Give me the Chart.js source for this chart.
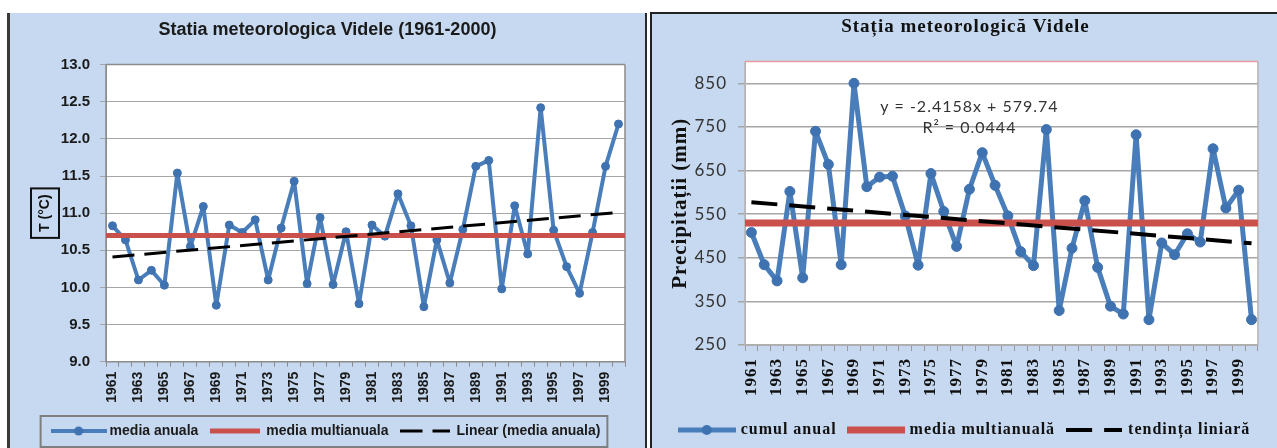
<!DOCTYPE html>
<html>
<head>
<meta charset="utf-8">
<script src="https://cdn.jsdelivr.net/npm/chart.js@4.4.1/dist/chart.umd.min.js"></script>
<style>
  html, body { margin: 0; padding: 0; background: #fff; width: 1277px; height: 448px; overflow: hidden; position: relative; }
  #p1 { position: absolute; left: 7px; top: 13px; width: 635px; height: 435px; background: #c6d9f0;
        border-left: 3px solid #3a3a3a; border-right: 2px solid #2a2a2a; }
  #p2 { position: absolute; left: 650px; top: 12px; width: 627px; height: 434px; background: #c6d9f0;
        border-left: 2px solid #222; border-top: 2px solid #222; }
  canvas { display: block; }
</style>
</head>
<body>
<div id="p1"><canvas id="tempChart" width="635" height="435"></canvas></div>
<div id="p2"><canvas id="precipChart" width="627" height="434"></canvas></div>
<script>
// years 1961-2000
const years = ['1961','1962','1963','1964','1965','1966','1967','1968','1969','1970',
               '1971','1972','1973','1974','1975','1976','1977','1978','1979','1980',
               '1981','1982','1983','1984','1985','1986','1987','1988','1989','1990',
               '1991','1992','1993','1994','1995','1996','1997','1998','1999','2000'];

// left chart: mean annual temperature (°C)
const tempAnnual = [10.83, 10.64, 10.10, 10.23, 10.03, 11.54, 10.55, 11.09, 9.76, 10.84,
                    10.74, 10.91, 10.10, 10.80, 11.43, 10.05, 10.94, 10.04, 10.75, 9.78,
                    10.84, 10.69, 11.26, 10.83, 9.74, 10.64, 10.06, 10.78, 11.63, 11.71,
                    9.98, 11.10, 10.45, 12.42, 10.77, 10.28, 9.92, 10.74, 11.63, 12.20];
const tempMean = 10.70;
const tempTrend = [10.41, 11.01];   // trend line at 1961 and 2000
const tempTicks = [9.0, 9.5, 10.0, 10.5, 11.0, 11.5, 12.0, 12.5, 13.0];

// right chart: annual precipitation (mm)
const precipAnnual = [508, 434, 397, 602, 404, 740, 664, 434, 850, 613,
                      635, 637, 546, 433, 643, 556, 476, 607, 691, 616,
                      546, 464, 432, 744, 329, 472, 581, 428, 339, 321,
                      732, 308, 484, 457, 505, 486, 700, 564, 605, 308];
const precipMean = 530;
const precipTrend = [577.3, 483.1]; // y = -2.4158x + 579.74 at x = 1 and x = 40
const precipTicks = [250, 350, 450, 550, 650, 750, 850];
const precipMax = 900;
const trendEquation = ['y = -2.4158x + 579.74', 'R² = 0.0444'];

const SANS = '"Liberation Sans", Arial, sans-serif';
const SERIF = '"Liberation Serif", "Times New Roman", serif';
const CALI = 'Lato, "Open Sans", sans-serif';
const BLUE = '#4a7ebb';
const BLUE_PT = '#3f72b0';
const RED = '#c9504b';

function sample(w, h, draw) {
  const c = document.createElement('canvas');
  c.width = w; c.height = h;
  draw(c.getContext('2d'), w, h);
  return c;
}
function lineSample(w, h, color, lw, dash, marker) {
  return sample(w, h, (g) => {
    g.strokeStyle = color; g.lineWidth = lw;
    g.setLineDash(dash || []);
    g.beginPath(); g.moveTo(0, h / 2); g.lineTo(w, h / 2); g.stroke();
    if (marker) {
      g.setLineDash([]);
      g.fillStyle = BLUE_PT;
      g.beginPath(); g.arc(w / 2, h / 2, marker, 0, Math.PI * 2); g.fill();
    }
  });
}

// white plot background + frame
const plotFrame = {
  id: 'plotFrame',
  beforeDraw(chart, args, opts) {
    const { ctx, chartArea: a } = chart;
    ctx.save();
    ctx.fillStyle = '#fff';
    ctx.fillRect(a.left, a.top, a.width, a.height);
    ctx.restore();
  },
  beforeDatasetsDraw(chart, args, opts) {
    const { ctx, chartArea: a } = chart;
    ctx.save();
    ctx.lineWidth = 1.5;
    ctx.strokeStyle = opts.side;
    ctx.beginPath();
    ctx.moveTo(a.left, a.top); ctx.lineTo(a.left, a.bottom); ctx.lineTo(a.right, a.bottom); ctx.lineTo(a.right, a.top);
    ctx.stroke();
    ctx.strokeStyle = opts.top;
    ctx.beginPath(); ctx.moveTo(a.left, a.top); ctx.lineTo(a.right, a.top); ctx.stroke();
    ctx.restore();
  }
};

// box round the legend and round the y-axis title (left chart)
const boxes = {
  id: 'boxes',
  afterDraw(chart, args, opts) {
    if (!opts.enabled) return;
    const ctx = chart.ctx;
    const hb = chart.legend.legendHitBoxes;
    ctx.save();
    ctx.strokeStyle = '#7f7f7f';
    ctx.lineWidth = 2;
    const first = hb[0], last = hb[hb.length - 1];
    const cy = first.top + first.height / 2;
    ctx.strokeRect(first.left - 14, cy - 15, last.left + last.width - first.left + 21, 31);
    const y = chart.scales.y;
    const t = y.options.title;
    ctx.font = 'bold ' + t.font.size + 'px ' + SANS;
    const tw = ctx.measureText(t.text).width;
    const cx = y.left + t.padding.top + t.font.size * 1.2 / 2;
    const yc = (y.top + y.bottom) / 2;
    ctx.strokeStyle = '#111';
    ctx.strokeRect(cx - 14, yc - tw / 2 - 6, 28, tw + 12);
    ctx.restore();
  }
};

// regression equation text (right chart)
const equation = {
  id: 'equation',
  afterDatasetsDraw(chart, args, opts) {
    if (!opts.lines) return;
    const { ctx, scales } = chart;
    ctx.save();
    ctx.font = opts.size + 'px ' + CALI;
    ctx.fillStyle = '#333';
    ctx.textAlign = 'center';
    ctx.textBaseline = 'middle';
    const x = scales.x.getPixelForValue(opts.at);
    opts.lines.forEach((s, i) => ctx.fillText(s, x, scales.y.getPixelForValue(opts.rows[i])));
    ctx.restore();
  }
};

// spaced serif text (right chart)
const spacing = {
  id: 'spacing',
  beforeLayout(chart, args, opts) { if (opts.value) chart.ctx.letterSpacing = opts.value; },
  beforeDraw(chart, args, opts) { if (opts.value) chart.ctx.letterSpacing = opts.value; }
};

Chart.register(plotFrame, boxes, equation, spacing);

// empty strip on the right of the plot, so title and legend stay centred on the panel
function rightGap(w) {
  return {
    type: 'linear', position: 'right', display: true,
    grid: { display: false }, ticks: { display: false }, border: { display: false },
    afterFit: (s) => { s.width = w; }
  };
}

// ---------- left chart ----------
const tempSamples = [
  lineSample(56, 12, BLUE, 4, null, 4.5),
  lineSample(50, 12, RED, 5),
  lineSample(50, 12, '#000', 3, [22, 10])
];
const fontL = { family: SANS, size: 15, weight: 'bold' };

new Chart(document.getElementById('tempChart'), {
  type: 'line',
  data: {
    labels: years,
    datasets: [
      { label: 'media anuala', data: tempAnnual, xAxisID: 'x', yAxisID: 'y', borderColor: BLUE, borderWidth: 4,
        borderJoinStyle: 'round', borderCapStyle: 'round',
        pointRadius: 4, pointBackgroundColor: BLUE_PT, pointBorderColor: BLUE_PT, pointBorderWidth: 1, order: 3 },
      { label: 'media multianuala', data: [{ x: 0, y: tempMean }, { x: 1, y: tempMean }], xAxisID: 'xm', yAxisID: 'y',
        borderColor: RED, borderWidth: 5, pointRadius: 0, order: 2 },
      { label: 'Linear (media anuala)', data: [{ x: years[0], y: tempTrend[0] }, { x: years[years.length - 1], y: tempTrend[1] }],
        xAxisID: 'x', yAxisID: 'y', borderColor: '#000', borderWidth: 3, borderDash: [22, 10], pointRadius: 0, order: 1 }
    ]
  },
  options: {
    responsive: false,
    animation: false,
    layout: { padding: 0 },
    plugins: {
      title: { display: true, text: 'Statia meteorologica Videle (1961-2000)', color: '#1a1a1a',
               font: { family: SANS, size: 18, weight: 'bold', lineHeight: 1.2 }, padding: { top: 6, bottom: 24 } },
      legend: {
        position: 'bottom',
        labels: {
          usePointStyle: true, pointStyleWidth: 48, padding: 13, color: '#1a1a1a',
          font: { family: SANS, size: 14, weight: 'bold', lineHeight: 1.1 },
          generateLabels: (chart) => chart.data.datasets.map((ds, i) => ({
            text: ds.label, pointStyle: tempSamples[i], fillStyle: 'transparent', strokeStyle: 'transparent',
            lineWidth: 0, hidden: false, datasetIndex: i, fontColor: '#1a1a1a'
          }))
        }
      },
      tooltip: { enabled: false },
      plotFrame: { side: '#8c8c8c', top: '#8c8c8c' },
      boxes: { enabled: true }
    },
    scales: {
      x: {
        type: 'category', offset: true,
        grid: { offset: true, drawOnChartArea: false, drawTicks: true, tickLength: 5, color: '#8c8c8c' },
        border: { display: true, color: '#8c8c8c' },
        ticks: { autoSkip: false, minRotation: 90, maxRotation: 90, padding: 5, color: '#1a1a1a',
                 font: { family: SANS, size: 14, weight: 'bold' },
                 callback: (v, i) => (i % 2 === 0 ? years[i] : '') },
        afterFit: (s) => { s.height = 49.3; }
      },
      xm: { type: 'linear', display: false, min: 0, max: 1 },
      y: {
        min: 9, max: 13,
        afterBuildTicks: (s) => { s.ticks = tempTicks.map((v) => ({ value: v })); },
        ticks: { padding: 10, color: '#1a1a1a', font: fontL, callback: (v) => Number(v).toFixed(1) },
        grid: { color: '#a6a6a6', tickLength: 6 },
        border: { color: '#8c8c8c' },
        title: { display: true, text: 'T (°C)', color: '#111', font: { family: SANS, size: 14, weight: 'bold' },
                 padding: { top: 26.6, bottom: 0 } },
        afterFit: (s) => { s.width = 96; }
      },
      gap: rightGap(20)
    }
  }
});

// ---------- right chart ----------
const precipSamples = [
  lineSample(58, 14, BLUE, 5, null, 5),
  lineSample(58, 14, RED, 7),
  lineSample(56, 14, '#000', 4, [26, 12])
];

new Chart(document.getElementById('precipChart'), {
  type: 'line',
  data: {
    labels: years,
    datasets: [
      { label: 'cumul anual', data: precipAnnual, xAxisID: 'x', yAxisID: 'y', borderColor: BLUE, borderWidth: 5,
        borderJoinStyle: 'round', borderCapStyle: 'round',
        pointRadius: 5, pointBackgroundColor: BLUE_PT, pointBorderColor: BLUE_PT, pointBorderWidth: 1, order: 3 },
      { label: 'media multianuală', data: [{ x: 0, y: precipMean }, { x: 1, y: precipMean }], xAxisID: 'xm', yAxisID: 'y',
        borderColor: RED, borderWidth: 7, pointRadius: 0, order: 2 },
      { label: 'tendința liniară', data: [{ x: years[0], y: precipTrend[0] }, { x: years[years.length - 1], y: precipTrend[1] }],
        xAxisID: 'x', yAxisID: 'y', borderColor: '#000', borderWidth: 4, borderDash: [26, 12], pointRadius: 0, order: 1 }
    ]
  },
  options: {
    responsive: false,
    animation: false,
    layout: { padding: 0 },
    plugins: {
      title: { display: true, text: 'Stația meteorologică Videle', color: '#111',
               font: { family: SERIF, size: 19, weight: 'bold', lineHeight: 1.2 }, padding: { top: 1.5, bottom: 23.2 } },
      legend: {
        position: 'bottom',
        labels: {
          usePointStyle: true, pointStyleWidth: 52, padding: 13, color: '#111',
          font: { family: SERIF, size: 16, weight: 'bold', lineHeight: 1.0 },
          generateLabels: (chart) => chart.data.datasets.map((ds, i) => ({
            text: ds.label, pointStyle: precipSamples[i], fillStyle: 'transparent', strokeStyle: 'transparent',
            lineWidth: 0, hidden: false, datasetIndex: i, fontColor: '#111'
          }))
        }
      },
      tooltip: { enabled: false },
      plotFrame: { side: '#b4b4b4', top: '#e79a9a' },
      boxes: { enabled: false },
      equation: { lines: trendEquation, at: 17.0, rows: [795, 747], size: 16 },
      spacing: { value: '1px' }
    },
    scales: {
      x: {
        type: 'category', offset: true,
        grid: { offset: true, drawOnChartArea: false, drawTicks: true, tickLength: 6, color: '#9a9a9a' },
        border: { display: true, color: '#9a9a9a' },
        ticks: { autoSkip: false, minRotation: 90, maxRotation: 90, padding: 7, color: '#111',
                 font: { family: SERIF, size: 17, weight: 'bold' },
                 callback: (v, i) => (i % 2 === 0 ? years[i] : '') },
        afterFit: (s) => { s.height = 64; }
      },
      xm: { type: 'linear', display: false, min: 0, max: 1 },
      y: {
        min: 250, max: precipMax,
        afterBuildTicks: (s) => { s.ticks = precipTicks.map((v) => ({ value: v })); },
        ticks: { padding: 11, color: '#333', font: { family: CALI, size: 17 } },
        grid: { color: '#a6a6a6', tickLength: 7, lineWidth: 1.5 },
        border: { color: '#b4b4b4' },
        title: { display: true, text: 'Precipitații (mm)', color: '#111', font: { family: SERIF, size: 21, weight: 'bold' },
                 padding: { top: 16.4, bottom: 0 } },
        afterFit: (s) => { s.width = 93; }
      },
      gap: rightGap(5)
    }
  }
});
</script>
</body>
</html>
